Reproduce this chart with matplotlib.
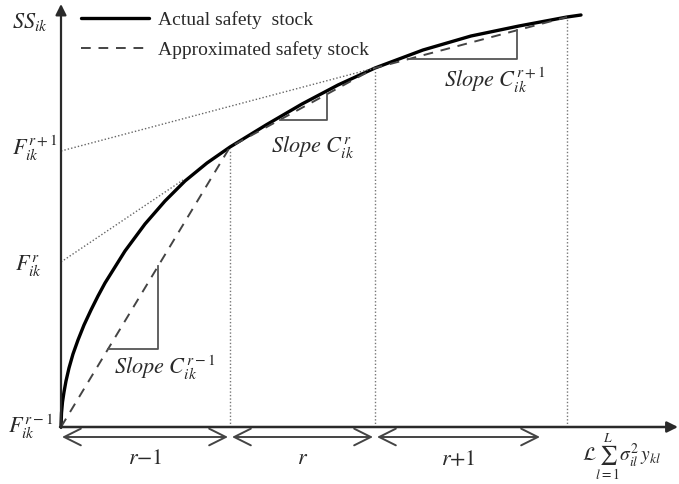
import numpy as np
import matplotlib
matplotlib.use("Agg")
import matplotlib.pyplot as plt

plt.rcParams['font.family'] = ['Liberation Serif', 'DejaVu Serif']
plt.rcParams['mathtext.fontset'] = 'stix'

# ---- data (conceptual units) ----
curve_x = [0, 0.5, 1.5, 3, 5, 8, 12, 17, 23, 30, 37, 44, 64, 84, 104, 124, 146, 169,
           205, 241, 277, 314, 362, 410, 458, 506, 520]
curve_y = [0, 14, 25, 35, 46, 59, 73, 87, 102, 117, 131, 144, 176, 203, 226, 246, 264, 280,
           302, 323, 342, 359, 377, 391, 401, 410, 412]

break_x = [0, 169, 314, 506]
break_y = [0, 280, 359, 410]

intercept_r = 165        # F_ik^r
tangent_r_end = (122, 247)
intercept_r1 = 276       # F_ik^{r+1}

tri_ranges = [(47, 97), (219, 266), (347, 456)]
seg_labels = [r'$r{-}1$', r'$r$', r'$r{+}1$']
slope_labels = [r'$Slope\ C_{ik}^{r-1}$', r'$Slope\ C_{ik}^{r}$', r'$Slope\ C_{ik}^{r+1}$']
y_labels = [r'$SS_{ik}$', r'$F_{ik}^{r+1}$', r'$F_{ik}^{r}$', r'$F_{ik}^{r-1}$']
legend_labels = ['Actual safety  stock', 'Approximated safety stock']
x_label = r'$\mathcal{L}\sum_{l=1}^{L}\sigma_{il}^{2}\,y_{kl}$'

# ---- figure ----
fig = plt.figure(figsize=(6.79, 4.84), dpi=100)
ax = fig.add_axes([0, 0, 1, 1])
ax.set_xlim(-61, 618)
ax.set_ylim(-57, 427)
ax.axis('off')

dark = '#2a2a2a'
gray = '#555555'

# curve and approximation
l1, = ax.plot(curve_x, curve_y, color='black', lw=2.4, solid_capstyle='round',
              label=legend_labels[0])
l2, = ax.plot(break_x, break_y, color='#444444', lw=1.4, dashes=(5, 4),
              label=legend_labels[1])

# dotted extension lines
ax.plot([0, tangent_r_end[0]], [intercept_r, tangent_r_end[1]], color='#666666',
        lw=1.0, linestyle=(0, (1, 1.5)))
ax.plot([0, break_x[2]], [intercept_r1, break_y[2]], color='#666666',
        lw=1.0, linestyle=(0, (1, 1.5)))

# vertical dotted lines at breakpoints
for bx, by in zip(break_x[1:], break_y[1:]):
    ax.plot([bx, bx], [0, by - 2], color='#777777', lw=1.0, linestyle=(0, (1, 1.5)))

# slope triangles
for (xa, xb) in tri_ranges:
    ya = np.interp(xa, break_x, break_y)
    yb = np.interp(xb, break_x, break_y)
    ax.plot([xa, xb, xb], [ya, ya, yb], color=gray, lw=1.3)

# axes with arrows
ax.annotate('', xy=(0, 423), xytext=(0, -1),
            arrowprops=dict(arrowstyle='-|>', lw=1.6, color=dark, mutation_scale=16,
                            shrinkA=0, shrinkB=0))
ax.annotate('', xy=(617, 0), xytext=(-1, 0),
            arrowprops=dict(arrowstyle='-|>', lw=1.8, color=dark, mutation_scale=16,
                            shrinkA=0, shrinkB=0))

# interval arrows
seg_ends = [(1, 167), (171, 312), (316, 479)]
for (xa, xb), lab in zip(seg_ends, seg_labels):
    ax.annotate('', xy=(xb, -10), xytext=(xa, -10),
                arrowprops=dict(arrowstyle='<->,head_length=0.6,head_width=0.3',
                                lw=1.4, color='#444444', mutation_scale=20,
                                shrinkA=0, shrinkB=0))
    ax.text((xa + xb) / 2, -33, lab, fontsize=16, ha='center', va='center', color=dark)

ax.text(560, -30, x_label, fontsize=14, ha='center', va='center', color=dark)

# slope labels
ax.text(104, 59, slope_labels[0], fontsize=16, ha='center', va='center', color=dark)
ax.text(252, 280, slope_labels[1], fontsize=16, ha='center', va='center', color=dark)
ax.text(434, 347, slope_labels[2], fontsize=16, ha='center', va='center', color=dark)

# y labels
ax.text(-13, 405, y_labels[0], fontsize=16, ha='right', va='center', color=dark)
ax.text(-4, 279, y_labels[1], fontsize=16, ha='right', va='center', color=dark)
ax.text(-19, 162, y_labels[2], fontsize=16, ha='right', va='center', color=dark)
ax.text(-8, 0, y_labels[3], fontsize=16, ha='right', va='center', color=dark)

leg = ax.legend(handles=[l1, l2], loc='upper left', bbox_to_anchor=(0.108, 0.993),
                frameon=False, fontsize=14, handlelength=3.5, handletextpad=0.45,
                labelspacing=0.62, borderaxespad=0)
for t in leg.get_texts():
    t.set_color(dark)

fig.savefig('out.png', dpi=100)
